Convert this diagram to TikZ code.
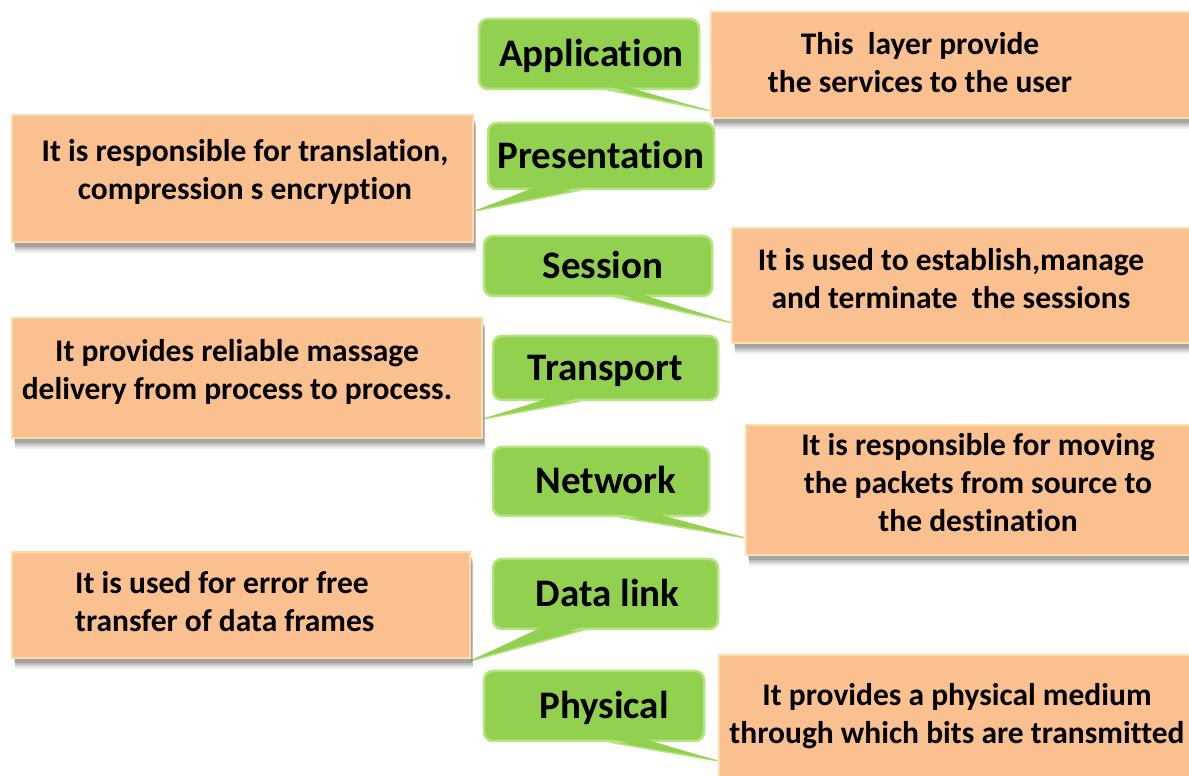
\documentclass[tikz,border=0pt]{standalone}
\usepackage{fontspec}
\setmainfont{Carlito}[Ligatures=NoCommon]
\usetikzlibrary{shadows,calc}
\definecolor{gfill}{HTML}{92D050}
\definecolor{gline}{HTML}{B4E47C}
\definecolor{ofill}{HTML}{FAC090}
\definecolor{oline}{HTML}{FCDDAA}
\pgfdeclarelayer{bg}
\pgfdeclarelayer{mid}
\pgfdeclarelayer{front}
\pgfsetlayers{bg,mid,main,front}
\tikzset{
  layer/.style={fill=gfill, draw=gline, line width=2.5pt, rounded corners=9pt,
    inner sep=0pt, text height=25pt, text depth=0pt,
    font=\bfseries\fontsize{39}{46}\selectfont},
  descbox/.style={fill=ofill, draw=oline, line width=1.5pt, inner sep=0pt,
    drop shadow={shadow xshift=3pt, shadow yshift=-11pt, opacity=0.06, fill=black},
    drop shadow={shadow xshift=3pt, shadow yshift=-9pt, opacity=0.09, fill=black},
    drop shadow={shadow xshift=3pt, shadow yshift=-7pt, opacity=0.12, fill=black},
    drop shadow={shadow xshift=2pt, shadow yshift=-5pt, opacity=0.14, fill=black}},
  desctext/.style={align=center, inner sep=0pt, font=\bfseries\fontsize{31.5}{38}\selectfont},
  tailshape/.style={fill=gfill, draw=gline, line width=1.5pt, line join=miter},
  tailcover/.style={fill=gfill},
}
% #1 green node, #2 #3 base offsets, #4 orange anchor, #5 offset of tip
\newcommand\mytail[5]{%
  \begin{pgfonlayer}{mid}
    \path[tailshape] ($(#1.south)+(#2,0)$) -- ($(#1.south)+(#3,0)$) -- ($(#4)+(#5)$) -- cycle;
  \end{pgfonlayer}
  \begin{pgfonlayer}{front}
    \path[tailcover] ($(#1.south)+(#2,0)+(1.5,3)$) -- ($(#1.south)+(#3,0)+(-1.5,3)$) -- ($(#4)+(#5)$) -- cycle;
  \end{pgfonlayer}}
\begin{document}
\begin{tikzpicture}[x=1pt,y=1pt]
\clip (0,0) rectangle (1189,776);
\begin{pgfonlayer}{bg}
  \fill[white] (0,0) rectangle (1189,776);
\end{pgfonlayer}

% description boxes
\node[descbox, minimum width=484pt, minimum height=106pt] (appd)   at (953,711)   {};
\node[descbox, minimum width=461pt, minimum height=127pt] (presd)  at (242.5,597.5) {};
\node[descbox, minimum width=463pt, minimum height=115pt] (sessd)  at (963.5,490.5) {};
\node[descbox, minimum width=470pt, minimum height=120pt] (transd) at (247,398)   {};
\node[descbox, minimum width=449pt, minimum height=130pt] (netd)   at (970.5,286) {};
\node[descbox, minimum width=458pt, minimum height=106pt] (dld)    at (241,171)   {};
\node[descbox, minimum width=476pt, minimum height=135pt] (physd)  at (957,53.5)  {};

% description texts
\node[desctext] (appt)   at (920,713) {This\ \ layer provide\\the services to the user};
\node[desctext] (prest)  at (245,604) {It is responsible for translation,\\compression s encryption};
\node[desctext] (sesst)  at (951,497) {It is used to establish,manage\\and terminate\ \ the sessions};
\node[desctext] (transt) at (237,404) {It provides reliable massage\\delivery from process to process.};
\node[desctext] (nett)   at (978,293) {It is responsible for moving\\the packets from source to\\the destination};
\node[desctext, align=left, anchor=west] (dlt) at (75,174) {It is used for error free\\transfer of data frames};
\node[desctext] (physt)  at (957,60) {It provides a physical medium\\through which bits are transmitted};

% layer boxes
\node[layer, minimum width=220pt, minimum height=70pt] (app)   at (589,722)   {\hspace*{5pt}Application};
\node[layer, minimum width=226pt, minimum height=66pt] (pres)  at (601,620)   {Presentation};
\node[layer, minimum width=228pt, minimum height=60pt] (sess)  at (598,510)   {\hspace*{10pt}Session};
\node[layer, minimum width=225pt, minimum height=64pt] (trans) at (605.5,408) {Transport};
\node[layer, minimum width=216pt, minimum height=69pt] (net)   at (601,294.5) {\hspace*{10pt}Network};
\node[layer, minimum width=225pt, minimum height=70pt] (dl)    at (605.5,182) {\hspace*{4pt}Data link};
\node[layer, minimum width=220pt, minimum height=70pt] (phys)  at (594,70)    {\hspace*{20pt}Physical};

% callout tails
\mytail{app}{21}{41}{appd.south west}{-1,8}
\mytail{pres}{-68}{-21}{presd.south east}{2,32}
\mytail{sess}{19}{45}{sessd.south west}{0,21}
\mytail{trans}{-58.5}{-25.5}{transd.south east}{1,20}
\mytail{net}{19}{59}{netd.south west}{-1,18}
\mytail{dl}{-65.5}{-22.5}{dld.south east}{0,-2}
\mytail{phys}{16}{53}{physd.south west}{-1,30}
\end{tikzpicture}
\end{document}
